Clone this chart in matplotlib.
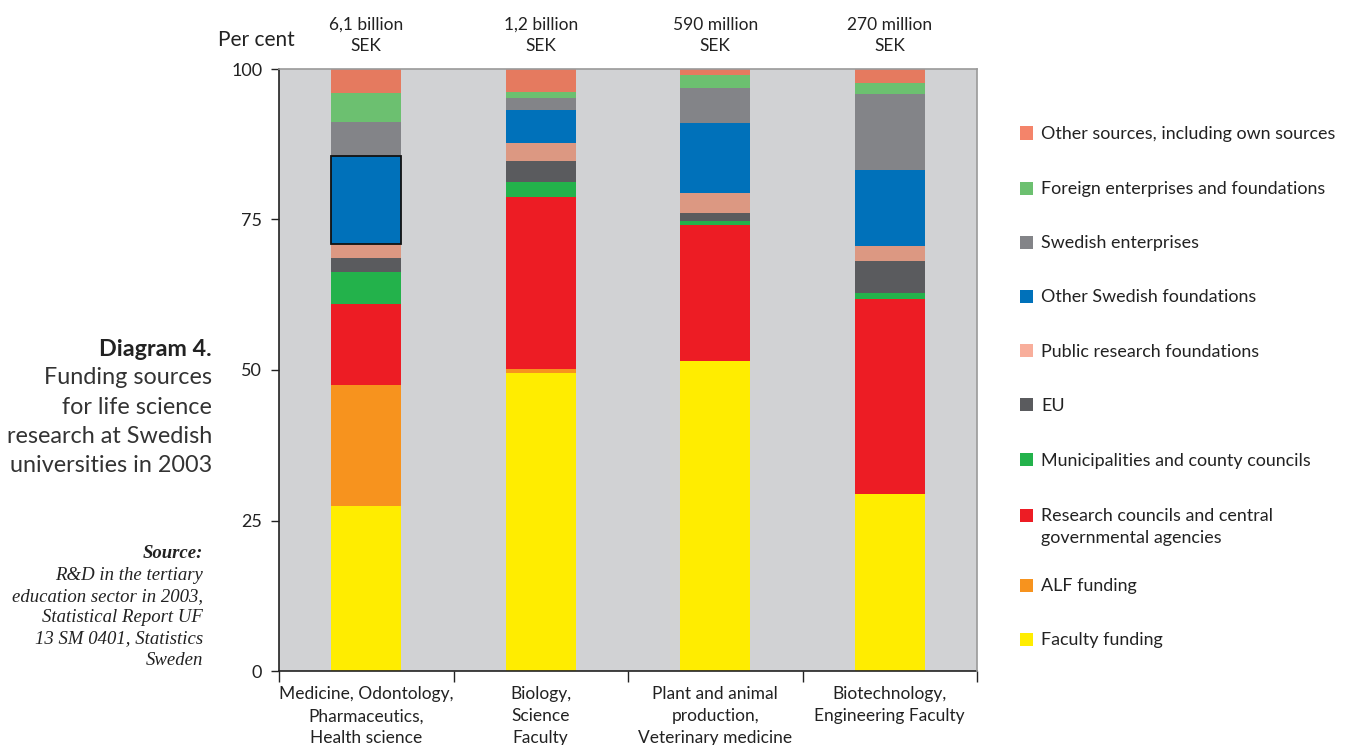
import matplotlib.pyplot as plt
from matplotlib.patches import Rectangle
import numpy as np

plt.rcParams['font.family'] = ['Lato', 'DejaVu Sans']

# shares in per cent, one list per funding source, bottom to top
categories = ['Medicine, Odontology,\nPharmaceutics,\nHealth science',
              'Biology,\nScience\nFaculty',
              'Plant and animal\nproduction,\nVeterinary medicine',
              'Biotechnology,\nEngineering Faculty']
totals = ['6,1 billion\nSEK', '1,2 billion\nSEK', '590 million\nSEK', '270 million\nSEK']

faculty = [27.4, 49.5, 51.5, 29.4]
alf = [20.1, 0.7, 0.0, 0.0]
research_councils = [13.5, 28.5, 22.6, 32.4]
municipalities = [5.3, 2.5, 0.65, 1.0]
eu = [2.3, 3.6, 1.4, 5.3]
public_found = [2.4, 2.9, 3.3, 2.5]
other_found = [14.5, 5.5, 11.6, 12.6]
swedish_ent = [5.7, 2.0, 5.8, 12.6]
foreign = [4.8, 1.0, 2.2, 1.9]
other_sources = [4.0, 3.8, 1.0, 2.3]

series = [faculty, alf, research_councils, municipalities, eu,
          public_found, other_found, swedish_ent, foreign, other_sources]
names = ['Faculty funding', 'ALF funding',
         'Research councils and central\ngovernmental agencies',
         'Municipalities and county councils', 'EU',
         'Public research foundations', 'Other Swedish foundations',
         'Swedish enterprises', 'Foreign enterprises and foundations',
         'Other sources, including own sources']
colors = ['#ffed00', '#f7931e', '#ed1c24', '#23b24b', '#5a5b5e',
          '#dc9882', '#0071ba', '#838488', '#6cc070', '#e57a5f']
key_colors = ['#ffed00', '#f7931e', '#ed1c24', '#23b24b', '#5a5b5e',
              '#f8ae9b', '#0071ba', '#838488', '#6cc070', '#f4846a']

W, H = 1347, 745
fig = plt.figure(figsize=(W / 100, H / 100), dpi=100)
ax = fig.add_axes([279 / W, 74 / H, 698 / W, 602 / H])
ax.set_facecolor('#d1d2d4')

x = np.arange(len(categories))
bottom = np.zeros(len(categories))
for vals, col, name in zip(series, colors, names):
    bars = ax.bar(x, vals, width=0.4, bottom=bottom, color=col, linewidth=0, zorder=2)
    if name == 'Other Swedish foundations':
        bars[0].set_edgecolor('#111111')
        bars[0].set_linewidth(1.3)
        bars[0].set_zorder(3)
    bottom += np.array(vals)

ax.set_xlim(-0.5, 3.5)
ax.set_ylim(0, 100)

ax.set_yticks([0, 25, 50, 75, 100])
ax.tick_params(axis='y', length=6, width=1, pad=6, labelsize=13, colors='#222222')
ax.set_xticks(np.arange(-0.5, 4, 1))
ax.set_xticklabels([])
ax.tick_params(axis='x', which='major', length=8, width=1, color='#222222')
ax.set_xticks(x, minor=True)
ax.set_xticklabels(categories, minor=True, fontsize=12.5, linespacing=1.45, color='#222222')
ax.tick_params(axis='x', which='minor', length=0, pad=11)

for side in ['left', 'bottom']:
    ax.spines[side].set_color('#222222')
    ax.spines[side].set_linewidth(1.2)
for side in ['top', 'right']:
    ax.spines[side].set_color('#9a9a9a')
    ax.spines[side].set_linewidth(1.2)
    ax.spines[side].set_zorder(4)

for i, t in enumerate(totals):
    ax.annotate(t, (x[i], 100), xytext=(0, 10.5), textcoords='offset points',
                ha='center', va='bottom', fontsize=12.5, linespacing=1.45,
                color='#222222', annotation_clip=False)

fig.text(295 / W, 1 - 40 / H, 'Per cent', ha='right', va='center', fontsize=15, color='#222222')

# caption block on the left
fig.text(212 / W, 1 - 349 / H, 'Diagram 4.', ha='right', va='center',
         fontsize=16.8, fontweight='bold', color='#222222')
caption = ['Funding sources', 'for life science', 'research at Swedish', 'universities in 2003']
for k, line in enumerate(caption):
    fig.text(212 / W, 1 - (378 + 29.3 * k) / H, line, ha='right', va='center',
             fontsize=16.8, color='#333333')

fig.text(203 / W, 1 - 553 / H, 'Source:', ha='right', va='center', fontsize=13.5,
         family='Liberation Serif', style='italic', fontweight='bold', color='#222222')
source = ['R&D in the tertiary', 'education sector in 2003,', 'Statistical Report UF',
          '13 SM 0401, Statistics', 'Sweden']
for k, line in enumerate(source):
    fig.text(203 / W, 1 - (575 + 21.3 * k) / H, line, ha='right', va='center', fontsize=13.5,
             family='Liberation Serif', style='italic', color='#222222')

# key on the right, top entry first
key_y = [639, 585, 515, 460, 405, 351, 296, 242, 188, 133]
for name, col, yy in zip(names, key_colors, key_y):
    fig.patches.append(Rectangle((1020 / W, 1 - (yy + 6.5) / H), 13 / W, 13 / H,
                                 transform=fig.transFigure, color=col, lw=0))
    lines = name.split('\n')
    for k, line in enumerate(lines):
        fig.text(1041 / W, 1 - (yy + 1 + 22 * k) / H, line, ha='left', va='center',
                 fontsize=12.9, color='#222222')

fig.savefig('out.png', dpi=100)
